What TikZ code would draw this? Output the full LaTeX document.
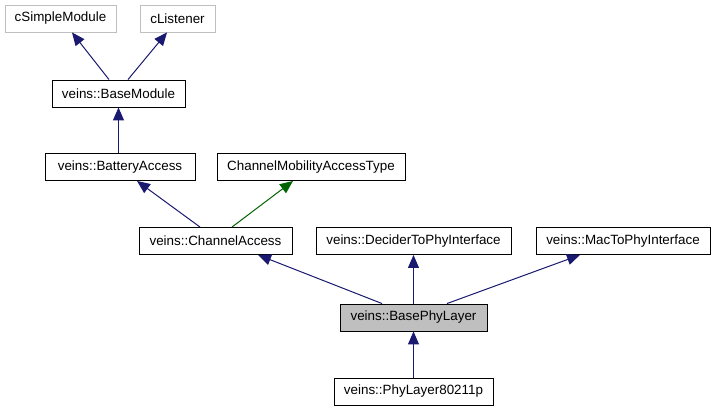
\documentclass[tikz,border=0pt]{standalone}
\usepackage{fontspec}
\setmainfont{Liberation Sans}
\usepackage{xcolor}
\usetikzlibrary{arrows.meta}
\definecolor{edgeblue}{HTML}{191970}
\definecolor{edgegreen}{HTML}{006400}
\definecolor{boxgray}{HTML}{BFBFBF}

\begin{document}
\begin{tikzpicture}[x=1pt, y=-1pt,
  cls/.style={draw, line width=0.9pt, minimum height=27pt, inner sep=0pt,
    font=\fontsize{13.4}{16}\selectfont},
  extcls/.style={cls, draw=boxgray},
  curcls/.style={cls, fill=boxgray},
  inherit/.style={-{Triangle[length=13pt, width=11pt]}, line width=1pt, edgeblue},
  template/.style={inherit, edgegreen}
]
\useasboundingbox (0,0) rectangle (716,411);

% External classes
\node[extcls, minimum width=111pt] (cSimpleModule) at (60.5, 18.5) {cSimpleModule};
\node[extcls, minimum width=75pt] (cListener) at (177.5, 18.5) {cListener};

% Class hierarchy (top to bottom)
\node[cls, minimum width=133pt] (BaseModule) at (118.5, 93.5) {veins::BaseModule};
\node[cls, minimum width=150pt] (BatteryAccess) at (120, 167) {veins::BatteryAccess};
\node[cls, minimum width=188pt] (ChannelMobilityAccessType) at (311, 167) {ChannelMobilityAccessType};
\node[cls, minimum width=153pt] (ChannelAccess) at (215.5, 241) {veins::ChannelAccess};
\node[cls, minimum width=195pt] (DeciderToPhyInterface) at (413.5, 241) {veins::DeciderToPhyInterface};
\node[cls, minimum width=174pt] (MacToPhyInterface) at (623, 241) {veins::MacToPhyInterface};
\node[curcls, minimum width=147pt] (BasePhyLayer) at (413.5, 317.5) {veins::BasePhyLayer};
\node[cls, minimum width=159pt] (PhyLayer80211p) at (413.5, 391.5) {veins::PhyLayer80211p};

% Inheritance edges
\draw[inherit] ([xshift=-9.5pt]BaseModule.north) -- ([xshift=11.5pt]cSimpleModule.south);
\draw[inherit] ([xshift=9.5pt]BaseModule.north) -- ([xshift=-10.5pt]cListener.south);
\draw[inherit] (BaseModule.south |- BatteryAccess.north) -- (BaseModule.south);
\draw[inherit] ([xshift=-15.5pt]ChannelAccess.north) -- ([xshift=17pt]BatteryAccess.south);
\draw[template] ([xshift=16.5pt]ChannelAccess.north) -- ([xshift=-18pt]ChannelMobilityAccessType.south);
\draw[inherit] ([xshift=-31.5pt]BasePhyLayer.north) -- ([xshift=42.5pt]ChannelAccess.south);
\draw[inherit] (BasePhyLayer.north) -- (DeciderToPhyInterface.south);
\draw[inherit] ([xshift=33.5pt]BasePhyLayer.north) -- ([xshift=-43pt]MacToPhyInterface.south);
\draw[inherit] (PhyLayer80211p.north) -- (BasePhyLayer.south);

\end{tikzpicture}
\end{document}
